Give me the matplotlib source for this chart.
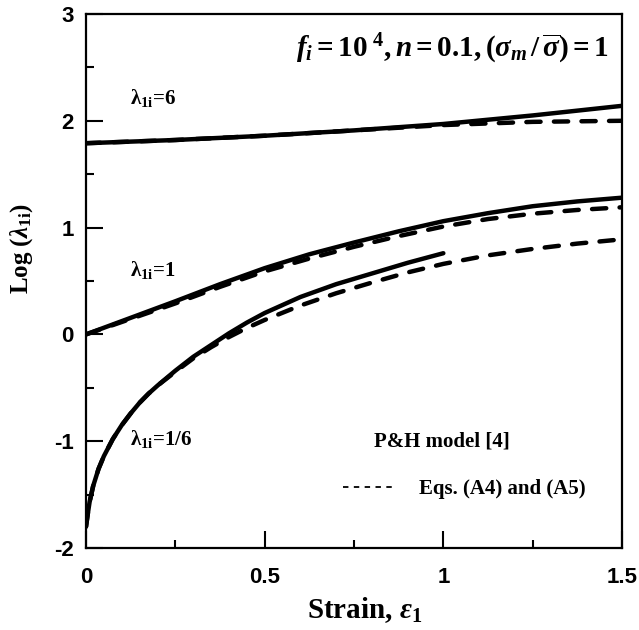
import numpy as np
import matplotlib.pyplot as plt
from matplotlib.lines import Line2D
from matplotlib.ticker import MultipleLocator

plt.rcParams['mathtext.fontset'] = 'custom'
plt.rcParams['mathtext.rm'] = 'Liberation Serif:bold'
plt.rcParams['mathtext.it'] = 'Liberation Serif:italic:bold'
plt.rcParams['mathtext.bf'] = 'Liberation Serif:bold'
plt.rcParams['axes.unicode_minus'] = False

# lambda_1i = 6
x6 = [0, 0.25, 0.5, 0.75, 1.0, 1.125, 1.25, 1.375, 1.5]
y6_solid = [1.79, 1.82, 1.86, 1.91, 1.97, 2.01, 2.05, 2.095, 2.14]
y6_dash = [1.79, 1.82, 1.86, 1.91, 1.96, 1.975, 1.99, 1.995, 2.0]

# lambda_1i = 1
x1 = [0, 0.125, 0.25, 0.375, 0.5, 0.625, 0.75, 0.875, 1.0, 1.125, 1.25, 1.375, 1.5]
y1_solid = [0, 0.155, 0.31, 0.47, 0.62, 0.75, 0.86, 0.965, 1.06, 1.135, 1.2, 1.245, 1.28]
y1_dash = [0, 0.145, 0.29, 0.445, 0.59, 0.71, 0.82, 0.92, 1.01, 1.08, 1.13, 1.165, 1.19]

# lambda_1i = 1/6 (solid curve stops at strain 1)
x16_solid = [0, 0.005, 0.01, 0.02, 0.035, 0.05, 0.075, 0.1, 0.125, 0.15, 0.175, 0.2,
             0.25, 0.3, 0.35, 0.4, 0.45, 0.5, 0.6, 0.7, 0.8, 0.9, 1.0]
y16_solid = [-1.8, -1.68, -1.57, -1.42, -1.26, -1.14, -0.98, -0.85, -0.74, -0.64, -0.555, -0.48,
             -0.34, -0.21, -0.1, 0.01, 0.11, 0.2, 0.35, 0.47, 0.57, 0.67, 0.76]
x16_dash = [0, 0.005, 0.01, 0.02, 0.035, 0.05, 0.075, 0.1, 0.125, 0.15, 0.175, 0.2,
            0.25, 0.3, 0.35, 0.4, 0.45, 0.5, 0.6, 0.7, 0.8, 0.9, 1.0, 1.125, 1.25, 1.375, 1.5]
y16_dash = [-1.8, -1.68, -1.57, -1.42, -1.26, -1.14, -0.98, -0.85, -0.74, -0.64, -0.555, -0.48,
            -0.35, -0.225, -0.12, -0.025, 0.06, 0.135, 0.27, 0.385, 0.485, 0.58, 0.66, 0.74, 0.8, 0.85, 0.89]

fig = plt.figure(figsize=(6.39, 6.30), dpi=100)
ax = fig.add_axes([0.1346, 0.1302, 0.8388, 0.8476])

lw = 3.2
dash = (3.2, 3.0)
for xs, ys in [(x6, y6_solid), (x1, y1_solid), (x16_solid, y16_solid)]:
    ax.plot(xs, ys, color='black', lw=lw, solid_capstyle='round', solid_joinstyle='round')
for xs, ys in [(x6, y6_dash), (x1, y1_dash), (x16_dash, y16_dash)]:
    ax.plot(xs, ys, color='black', lw=lw, dashes=dash, dash_capstyle='round')

ax.set_xlim(0, 1.5)
ax.set_ylim(-2, 3)
ax.xaxis.set_minor_locator(MultipleLocator(0.25))
ax.yaxis.set_major_locator(MultipleLocator(1))
ax.yaxis.set_minor_locator(MultipleLocator(0.5))
ax.set_xticks([0, 0.5, 1, 1.5])
ax.set_xticklabels(['0', '0.5', '1', '1.5'])
ax.tick_params(which='major', direction='in', length=12.5, width=1.5)
ax.tick_params(which='minor', direction='in', length=6, width=1.5)
ax.tick_params(axis='x', which='major', pad=14)
ax.tick_params(axis='y', which='major', pad=9)
for lab in ax.get_xticklabels() + ax.get_yticklabels():
    lab.set_fontfamily('Liberation Sans')
    lab.set_fontweight('bold')
    lab.set_fontsize(16)
for sp in ax.spines.values():
    sp.set_linewidth(1.6)

ax.set_xlabel(r'Strain, $\varepsilon_{\mathit{1}}$', family='Liberation Serif',
              weight='bold', fontsize=21)
ax.xaxis.set_label_coords(0.52, -0.088)
ax.set_ylabel(r'Log ($\lambda_{\mathrm{1i}}$)', family='Liberation Serif',
              weight='bold', fontsize=18)
ax.yaxis.set_label_coords(-0.095, 0.56)

ax.text(0.975, 0.935, r'$f_i=10^{\ 4}, n=0.1, (\sigma_m\,/\,\overline{\sigma})=1$',
        transform=ax.transAxes, ha='right', va='center', fontsize=21)

lab_kw = dict(family='Liberation Serif', weight='bold', fontsize=15, va='center')
ax.text(0.123, 2.21, r'λ$_{\mathrm{1i}}$=6', **lab_kw)
ax.text(0.123, 0.6, r'λ$_{\mathrm{1i}}$=1', **lab_kw)
ax.text(0.123, -0.98, r'λ$_{\mathrm{1i}}$=1/6', **lab_kw)

ax.text(0.537, -1.0, 'P&H model [4]', transform=ax.get_yaxis_transform(),
        **lab_kw)
handles = [Line2D([], [], color='black', lw=1.3, ls=(0, (3, 3)))]
ax.legend(handles, ['Eqs. (A4) and (A5)'], frameon=False,
          loc='center left', bbox_to_anchor=(0.48, 0.11), borderpad=0,
          borderaxespad=0, handlelength=2.6, handletextpad=1.05,
          prop={'family': 'Liberation Serif', 'weight': 'bold', 'size': 15})

fig.savefig('out.png', dpi=100)
